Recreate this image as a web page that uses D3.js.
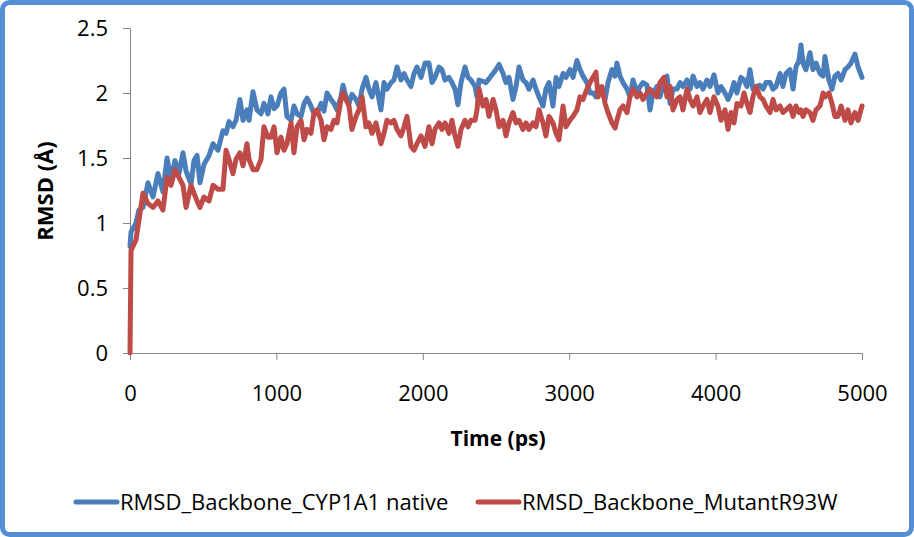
<!DOCTYPE html>
<html lang="en">
<head>
<meta charset="UTF-8">
<title>RMSD backbone</title>
<style>
    html, body { margin: 0; padding: 0; background: #fff; }
    #main { width: 914px; height: 537px; }
    text { font-family: "Open Sans", "DejaVu Sans", sans-serif; fill: #000; }
</style>
</head>
<body>
<div id="main"></div>
<script src="https://d3js.org/d3.v7.min.js"></script>
<script>
    // ===== data =====
    const times = [
        0, 7, 41, 61, 89, 123, 157, 191, 225, 253, 280, 307, 335, 362, 383, 417, 437, 458, 478, 505,
        540, 567, 601, 635, 656, 676, 703, 724, 751, 772, 799, 813, 840, 867, 895, 915, 942, 963, 984,
        1004, 1031, 1052, 1072, 1100, 1120, 1141, 1168, 1189, 1209, 1236, 1257, 1277, 1305, 1325, 1346,
        1373, 1393, 1414, 1441, 1455, 1475, 1496, 1516, 1544, 1564, 1585, 1612, 1632, 1653, 1680, 1701,
        1714, 1735, 1755, 1783, 1803, 1824, 1851, 1872, 1892, 1919, 1940, 1960, 1988,
        2015, 2042, 2063, 2083, 2111, 2131, 2152, 2179, 2199, 2220, 2240, 2261, 2288, 2309, 2329, 2357,
        2370, 2384, 2411, 2432, 2452, 2480, 2500, 2521, 2548, 2568, 2589, 2616, 2637, 2657, 2684, 2705,
        2725, 2753, 2773, 2794, 2821, 2841, 2862, 2889, 2910, 2930, 2958, 2978,
        3005, 3026, 3053, 3074, 3094, 3121, 3142, 3162, 3183, 3197, 3224, 3245, 3265, 3292, 3313, 3326,
        3347, 3368, 3395, 3415, 3436, 3463, 3484, 3504, 3531, 3552, 3572, 3600, 3620, 3648, 3668, 3689,
        3709, 3736, 3757, 3777, 3805, 3825, 3846, 3873, 3893, 3914, 3941, 3962, 3989,
        4016, 4037, 4064, 4085, 4105, 4126, 4146, 4173, 4194, 4214, 4235, 4255, 4276, 4303, 4324, 4344,
        4372, 4392, 4413, 4440, 4460, 4481, 4508, 4529, 4549, 4570, 4583, 4597, 4617, 4645, 4665, 4686,
        4713, 4734, 4747, 4774, 4795, 4815, 4836, 4857, 4884, 4904, 4925, 4952, 4973, 5000
    ]

    // RMSD_Backbone_CYP1A1 native
    const nativeRmsd = [
        0.82, 0.93, 1.0, 1.1, 1.12, 1.31, 1.2, 1.38, 1.24, 1.5, 1.33, 1.48, 1.38, 1.54, 1.4, 1.3, 1.48, 1.52, 1.31, 1.45,
        1.52, 1.61, 1.56, 1.71, 1.69, 1.78, 1.74, 1.79, 1.95, 1.79, 1.87, 1.79, 2.01, 1.87, 1.84, 1.92, 1.84, 1.97, 1.88,
        1.9, 2.0, 2.03, 1.82, 1.79, 1.9, 1.84, 1.82, 1.92, 1.96, 1.9, 1.84, 1.84, 1.92, 1.86, 2.0,
        1.95, 1.92, 1.87, 1.97, 2.06, 1.97, 1.92, 1.99, 1.95, 1.9, 2.03, 2.12, 2.03, 1.97, 2.08, 1.95,
        1.87, 2.08, 2.03, 2.08, 2.1, 2.2, 2.1, 2.15, 2.1, 2.05, 2.15, 2.2, 2.12,
        2.23, 2.23, 2.08, 2.12, 2.2, 2.18, 2.1, 2.12, 2.08, 2.03, 1.91, 2.08, 2.2, 2.12, 2.1, 2.05,
        1.97, 2.1, 2.09, 2.08, 2.11, 2.15, 2.18, 2.22, 2.15, 2.08, 2.12, 1.95, 2.05, 2.2, 2.1, 2.08,
        2.03, 2.1, 2.03, 1.97, 1.9, 2.03, 2.08, 1.9, 2.12, 2.05, 2.15, 2.12,
        2.18, 2.12, 2.25, 2.18, 2.13, 2.08, 2.0, 2.0, 1.97, 2.05, 2.0, 1.95, 2.08, 2.18, 2.13, 2.23,
        2.13, 2.08, 2.03, 1.97, 2.1, 2.0, 2.05, 2.08, 2.06, 1.87, 2.0, 2.05, 1.97, 2.08, 2.13, 1.92,
        2.03, 2.03, 2.08, 2.05, 2.1, 2.03, 2.13, 2.05, 2.08, 2.03, 2.1, 2.05, 2.14,
        2.0, 2.05, 2.0, 1.95, 2.0, 2.08, 2.0, 2.12, 2.1, 2.05, 2.18, 2.03, 2.05, 2.06, 2.03, 2.08,
        2.08, 2.03, 2.05, 2.15, 2.05, 2.15, 2.18, 2.03, 2.2, 2.25, 2.37, 2.23, 2.18, 2.31, 2.18, 2.23,
        2.15, 2.13, 2.28, 2.1, 2.03, 2.13, 2.15, 2.1, 2.18, 2.2, 2.23, 2.3, 2.2, 2.12
    ]

    // RMSD_Backbone_MutantR93W
    const mutantRmsd = [
        0, 0.79, 0.87, 1.02, 1.23, 1.15, 1.12, 1.17, 1.1, 1.35, 1.29, 1.41, 1.35, 1.29, 1.12, 1.29, 1.23, 1.17, 1.12, 1.2,
        1.17, 1.29, 1.26, 1.26, 1.56, 1.49, 1.38, 1.49, 1.54, 1.44, 1.61, 1.49, 1.41, 1.41, 1.49, 1.74, 1.66, 1.66, 1.74,
        1.54, 1.66, 1.56, 1.61, 1.77, 1.54, 1.74, 1.79, 1.64, 1.72, 1.69, 1.85, 1.87, 1.79, 1.64, 1.74,
        1.72, 1.79, 1.77, 1.95, 2.0, 1.95, 1.9, 1.72, 1.82, 1.87, 1.97, 1.74, 1.77, 1.69, 1.77, 1.67,
        1.61, 1.69, 1.79, 1.77, 1.79, 1.72, 1.67, 1.74, 1.82, 1.59, 1.56, 1.61, 1.67,
        1.59, 1.74, 1.61, 1.72, 1.77, 1.72, 1.77, 1.69, 1.79, 1.67, 1.59, 1.72, 1.79, 1.74, 1.79, 1.79,
        1.87, 2.03, 1.9, 1.95, 1.82, 1.95, 1.87, 1.74, 1.79, 1.67, 1.77, 1.85, 1.77, 1.79, 1.72, 1.77,
        1.72, 1.77, 1.74, 1.87, 1.77, 1.67, 1.82, 1.77, 1.69, 1.64, 1.9, 1.74,
        1.79, 1.82, 1.87, 1.97, 1.95, 2.03, 2.08, 2.12, 2.16, 1.97, 2.05, 1.92, 1.85, 1.77, 1.73, 1.79,
        1.87, 1.9, 1.85, 1.97, 2.03, 1.97, 2.0, 1.95, 2.0, 2.03, 2.0, 1.97, 2.08, 2.12, 1.97, 2.05,
        1.87, 1.95, 1.97, 1.87, 2.03, 1.95, 1.9, 1.97, 1.85, 1.9, 1.95, 1.85, 1.97,
        1.9, 1.79, 1.87, 1.72, 1.85, 1.77, 1.92, 1.9, 2.0, 1.92, 1.85, 1.97, 2.05, 1.97, 1.95, 1.9,
        1.85, 1.95, 1.87, 1.9, 1.85, 1.87, 1.9, 1.82, 1.9, 1.85, 1.87, 1.82, 1.87, 1.85, 1.79, 1.87,
        1.9, 2.0, 1.97, 2.0, 1.92, 1.82, 1.82, 1.9, 1.79, 1.87, 1.77, 1.85, 1.79, 1.9
    ]

    const seriesNames = ['RMSD_Backbone_CYP1A1 native', 'RMSD_Backbone_MutantR93W']
    const seriesColors = ['#4a7ebb', '#be4b48']

    const xTicks = [0, 1000, 2000, 3000, 4000, 5000]
    const yTicks = [0, 0.5, 1, 1.5, 2, 2.5]

    // ===== container =====
    const width = 914
    const height = 537
    const svg = d3.select('#main').append('svg')
        .attr('width', width)
        .attr('height', height)
        .attr('viewBox', `0 0 ${width} ${height}`)

    // chart border
    svg.append('rect')
        .attr('x', 2.5).attr('y', 2.5)
        .attr('width', width - 5).attr('height', height - 5)
        .attr('rx', 7)
        .attr('fill', '#fff')
        .attr('stroke', '#558ed5')
        .attr('stroke-width', 5)

    // ===== scales =====
    const xScale = d3.scaleLinear().domain([0, 5000]).range([130, 862])
    const yScale = d3.scaleLinear().domain([0, 2.5]).range([353, 28])

    const fontSize = 22

    // ===== axes =====
    const yAxis = svg.append('g')
        .attr('transform', 'translate(130 0)')
        .call(d3.axisLeft(yScale).tickValues(yTicks).tickFormat(d => String(d))
            .tickSize(7).tickSizeOuter(0).tickPadding(15))
    const xAxis = svg.append('g')
        .attr('transform', 'translate(0 353)')
        .call(d3.axisBottom(xScale).tickValues(xTicks).tickFormat(d => String(d))
            .tickSize(7).tickSizeOuter(0).tickPadding(25))

    ;[xAxis, yAxis].forEach(ax => {
        ax.select('.domain').attr('stroke', '#868686')
        ax.selectAll('.tick line').attr('stroke', '#868686')
        ax.selectAll('.tick text')
            .style('font-family', '"Open Sans", "DejaVu Sans", sans-serif')
            .style('font-size', fontSize + 'px')
            .attr('fill', '#000')
    })

    // axis titles
    svg.append('text')
        .attr('x', 498).attr('y', 446)
        .attr('text-anchor', 'middle')
        .style('font-size', '21px')
        .style('font-weight', 'bold')
        .text('Time (ps)')

    svg.append('text')
        .attr('transform', 'translate(53 191) rotate(-90)')
        .attr('text-anchor', 'middle')
        .style('font-size', '22px')
        .style('font-weight', 'bold')
        .text('RMSD (Å)')

    // ===== lines =====
    const line = d3.line()
        .x(d => xScale(d[0]))
        .y(d => yScale(d[1]))

    ;[nativeRmsd, mutantRmsd].forEach((vals, i) => {
        svg.append('path')
            .datum(times.map((t, j) => [t, vals[j]]))
            .attr('fill', 'none')
            .attr('stroke', seriesColors[i])
            .attr('stroke-width', 5)
            .attr('stroke-linejoin', 'round')
            .attr('stroke-linecap', 'round')
            .attr('d', line)
    })

    // ===== legend =====
    const legendX = [76, 478]
    const legend = svg.append('g')
    seriesNames.forEach((name, i) => {
        legend.append('line')
            .attr('x1', legendX[i]).attr('x2', legendX[i] + 41)
            .attr('y1', 502).attr('y2', 502)
            .attr('stroke', seriesColors[i])
            .attr('stroke-width', 5)
            .attr('stroke-linecap', 'round')
        legend.append('text')
            .attr('x', legendX[i] + 44).attr('y', 502)
            .attr('dy', '0.35em')
            .style('font-size', fontSize + 'px')
            .text(name)
    })
</script>
</body>
</html>
